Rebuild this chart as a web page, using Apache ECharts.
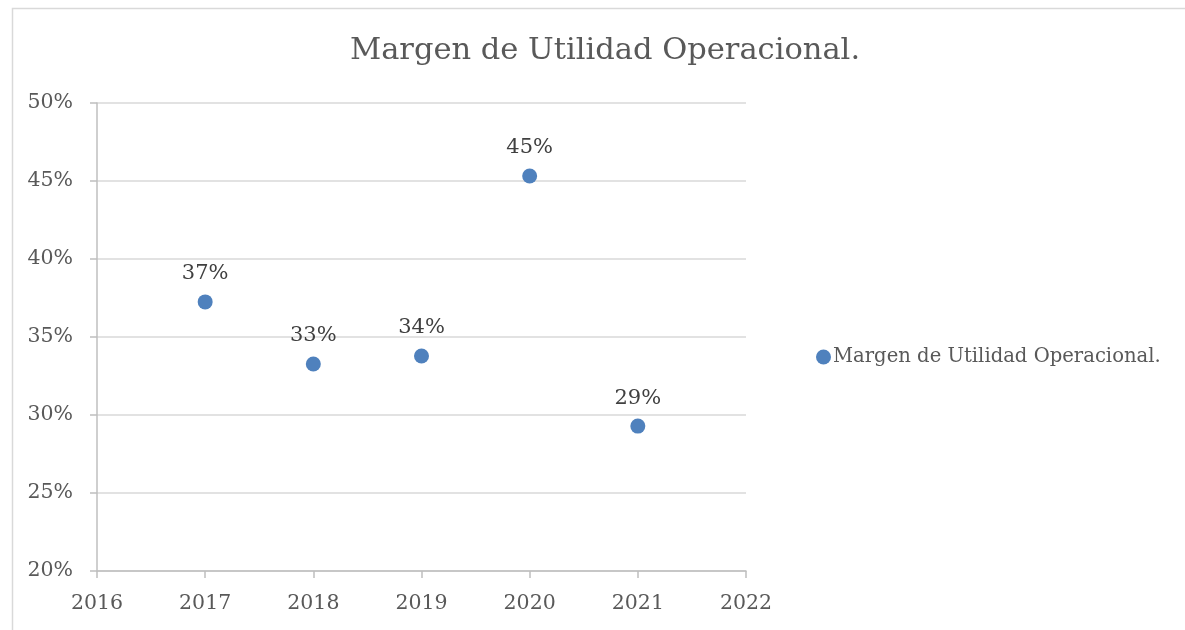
<!DOCTYPE html>
<html><head><meta charset="utf-8">
<script src="https://cdn.jsdelivr.net/npm/echarts@6/dist/echarts.min.js"></script>
<style>html,body{margin:0;padding:0;background:#fff}#c{width:1185px;height:630px}</style>
</head><body><div id="c"></div>
<script>
const years = [2017, 2018, 2019, 2020, 2021];
const margins = [37.25, 33.27, 33.78, 45.32, 29.29];
const yTicks = [20, 25, 30, 35, 40, 45, 50];
const seriesName = 'Margen de Utilidad Operacional.';
const titleText = 'Margen de Utilidad Operacional.';

const FONT = 'DejaVu Serif';
const chart = echarts.init(document.getElementById('c'));
chart.setOption({
  backgroundColor: '#fff',
  animation: false,
  graphic: [{type:'rect', left:10, top:6, shape:{width:1200, height:640}, style:{fill:'none', stroke:'#D9D9D9', lineWidth:1.5}, silent:true}],
  title: {text: titleText, left: 600, top: 31, textAlign:'center',
    textStyle:{fontFamily: FONT, fontSize: 30.5, fontWeight:'normal', color:'#595959'}},
  legend: {data:[seriesName], left: 811, top: 342, icon:'circle', itemWidth:15, itemHeight:15, itemGap: 4,
    textStyle:{fontFamily: FONT, fontSize: 19.6, color:'#595959', padding:[0,0,0,-3]}},
  grid: {left: 97, right: 439, top: 103, bottom: 59},
  xAxis: {type:'value', min:2016, max:2022, interval:1,
    axisLine:{show:true, lineStyle:{color:'#BFBFBF', width:1.5}},
    axisTick:{show:true, length:7, lineStyle:{color:'#BFBFBF', width:1.5}},
    splitLine:{show:false},
    axisLabel:{fontFamily: FONT, fontSize: 20.5, color:'#595959', margin: 22, formatter: v => String(v)}},
  yAxis: {type:'value', min:20, max:50, interval:5,
    axisLine:{show:true, lineStyle:{color:'#BFBFBF', width:1.5}},
    axisTick:{show:true, length:7, lineStyle:{color:'#BFBFBF', width:1.5}},
    splitLine:{show:true, lineStyle:{color:'#D9D9D9', width:1.5}},
    axisLabel:{fontFamily: FONT, fontSize: 20.5, color:'#595959', margin: 24, formatter: v => v + '%'}},
  series: [{
    name: seriesName, type:'scatter', symbol:'circle', symbolSize: 15,
    itemStyle:{color:'#4F81BD', opacity:1},
    data: years.map((y,i)=>[y, margins[i]]),
    label:{show:true, position:'top', distance: 10, fontFamily: FONT, fontSize: 21, color:'#404040',
      formatter: p => Math.round(p.value[1]) + '%'}
  }]
});
</script></body></html>
